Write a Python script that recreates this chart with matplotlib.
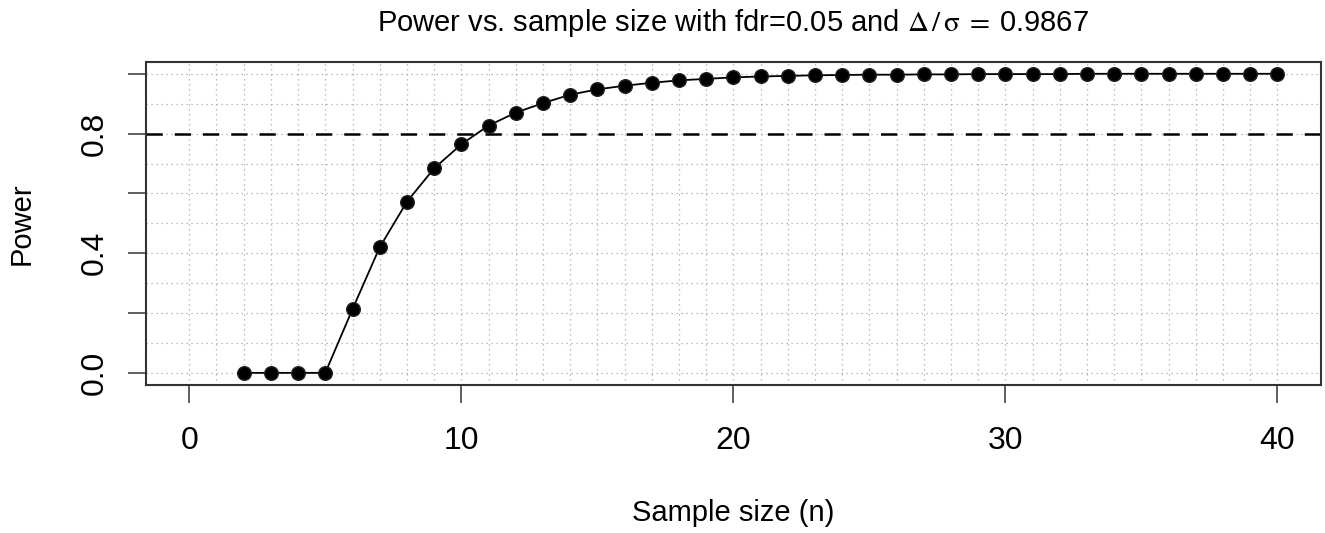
import matplotlib
matplotlib.use("Agg")
import matplotlib.pyplot as plt
import numpy as np

# sample sizes and power
n = list(range(2, 41))
power = [0.0, 0.0, 0.0, 0.0, 0.213, 0.42, 0.572, 0.684, 0.764, 0.827,
         0.87, 0.902, 0.93, 0.948, 0.96, 0.97, 0.978, 0.983, 0.988, 0.991,
         0.993, 0.995, 0.996, 0.997, 0.997, 0.998, 0.998, 0.999, 0.999, 0.999,
         0.999, 1.0, 1.0, 1.0, 1.0, 1.0, 1.0, 1.0, 1.0]
target = 0.8
xticks = [0, 10, 20, 30, 40]
yticks = [0.0, 0.2, 0.4, 0.6, 0.8, 1.0]
ylabels = ["0.0", "", "0.4", "", "0.8", ""]

plt.rcParams['font.family'] = ['Liberation Sans', 'DejaVu Sans']
plt.rcParams['mathtext.fontset'] = 'stix'

fig = plt.figure(figsize=(13.25, 5.33), dpi=100)
ax = fig.add_axes([0.110, 0.278, 0.887, 0.606])

# grid: every unit in x, every 0.1 in y
for gx in range(0, 41):
    ax.axvline(gx, color="#a8a8a8", lw=0.9, ls=(0, (1, 3)), zorder=0)
for gy in np.arange(0, 1.01, 0.1):
    ax.axhline(gy, color="#a8a8a8", lw=0.9, ls=(0, (1, 3)), zorder=0)

ax.axhline(target, color="black", lw=1.8, ls=(0, (6.5, 4.8)), zorder=2)
ax.plot(n, power, color="black", lw=1.3, marker="o", ms=9.8,
        mfc="black", mec="#222222", zorder=3)

ax.set_xlim(-1.6, 41.6)
ax.set_ylim(-0.04, 1.04)
ax.set_xticks(xticks)
ax.set_yticks(yticks)
ax.set_yticklabels(ylabels, rotation=90, va="center")
ax.tick_params(axis="both", direction="out", length=13, width=1.1,
               color="#333333", labelsize=23)
ax.tick_params(axis="x", pad=16.5)
ax.tick_params(axis="y", pad=13)
for s in ax.spines.values():
    s.set_linewidth(1.5)
    s.set_color("#333333")

ax.set_title(r"Power vs. sample size with fdr=0.05 and $\mathrm{\Delta}\,/\,\mathrm{\sigma}\; =\; $0.9867",
             fontsize=21, pad=22)
ax.set_xlabel("Sample size (n)", fontsize=21, labelpad=31)
ax.set_ylabel("Power", fontsize=21, labelpad=32)

fig.savefig("out.png", dpi=100)
